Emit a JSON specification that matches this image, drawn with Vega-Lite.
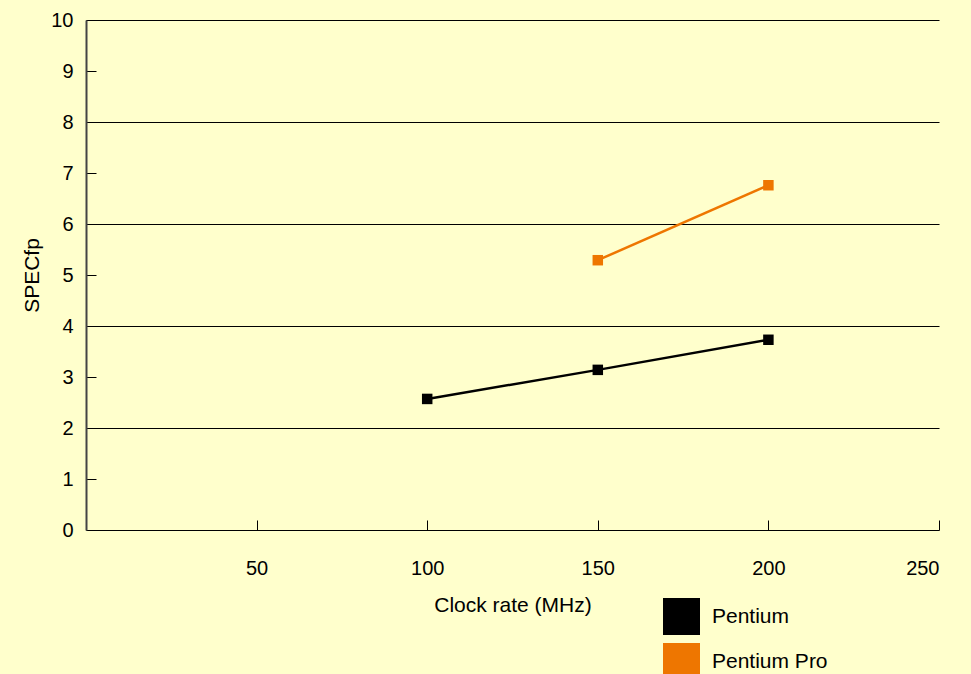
{
  "$schema": "https://vega.github.io/schema/vega-lite/v6.json",
  "width": 853,
  "height": 510,
  "autosize": "none",
  "padding": {"left": 86, "top": 20, "right": 32, "bottom": 144},
  "background": "#FFFFCC",
  "config": {
    "view": {"stroke": null},
    "font": "Liberation Sans",
    "axis": {"labelFont": "Liberation Sans", "titleFont": "Liberation Sans", "labelColor": "#000000", "titleColor": "#000000", "titleFontWeight": "normal"},
    "legend": {"labelFont": "Liberation Sans"}
  },
  "data": {
    "values": [
      {"clock": 100, "specfp": 2.57, "cpu": "Pentium"},
      {"clock": 150, "specfp": 3.14, "cpu": "Pentium"},
      {"clock": 200, "specfp": 3.73, "cpu": "Pentium"},
      {"clock": 150, "specfp": 5.29, "cpu": "Pentium Pro"},
      {"clock": 200, "specfp": 6.76, "cpu": "Pentium Pro"}
    ]
  },
  "encoding": {
    "x": {
      "field": "clock", "type": "quantitative",
      "scale": {"domain": [0, 250], "nice": false, "zero": false},
      "axis": {
        "title": "Clock rate (MHz)", "values": [50, 100, 150, 200, 250],
        "grid": false, "domainColor": "#000000", "domainWidth": 1,
        "tickColor": "#000000", "tickSize": -10, "tickWidth": 1,
        "labelFontSize": 20, "labelPadding": 38, "titleFontSize": 21, "titlePadding": 16
      }
    },
    "y": {
      "field": "specfp", "type": "quantitative",
      "scale": {"domain": [0, 10], "nice": false},
      "axis": {
        "title": "SPECfp", "values": [0, 1, 2, 3, 4, 5, 6, 7, 8, 9, 10],
        "grid": true, "gridColor": "#000000", "gridWidth": 1,
        "gridOpacity": {"condition": {"test": "datum.value % 2 === 0 && datum.value > 0", "value": 1}, "value": 0},
        "domainColor": "#444444", "domainWidth": 2,
        "tickColor": "#000000", "tickSize": -10, "tickWidth": 1,
        "labelFontSize": 20, "labelPadding": 23, "titleFontSize": 21, "titlePadding": 8
      }
    },
    "color": {
      "field": "cpu", "type": "nominal",
      "scale": {"domain": ["Pentium", "Pentium Pro"], "range": ["#000000", "#EE7600"]},
      "legend": {
        "title": null, "orient": "none", "legendX": 577, "legendY": 578,
        "symbolType": "square", "symbolSize": 1369, "symbolStrokeWidth": 0,
        "labelFontSize": 21, "labelOffset": 12, "rowPadding": 8, "labelColor": "#000000"
      }
    }
  },
  "layer": [
    {"mark": {"type": "line", "strokeWidth": 2.5}, "encoding": {"detail": {"field": "cpu"}}},
    {"mark": {"type": "point", "shape": "square", "filled": true, "size": 110, "opacity": 1}}
  ]
}
